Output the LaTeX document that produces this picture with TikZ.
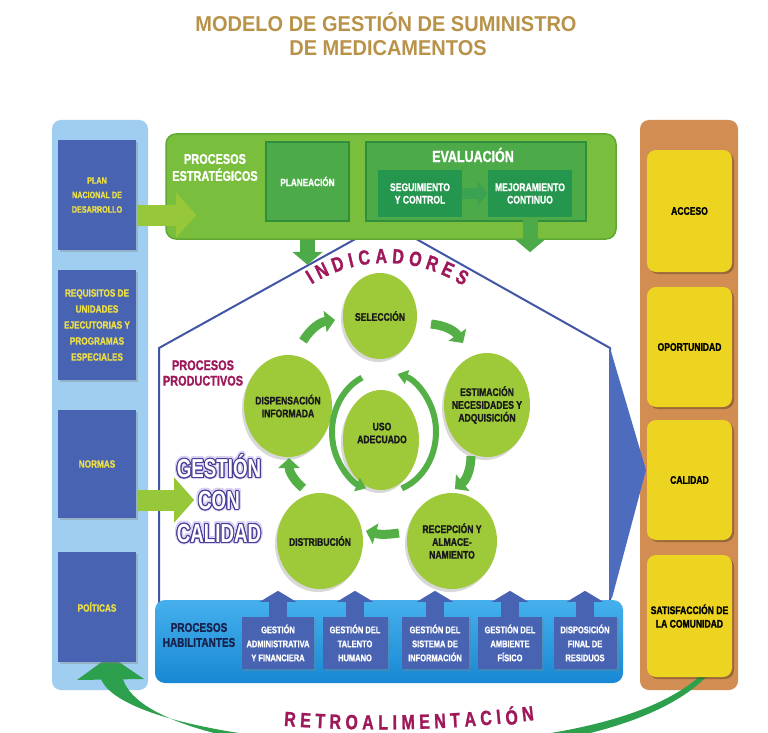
\documentclass[tikz,border=0pt]{standalone}
\usepackage{fontspec}
\usepackage[copies]{contour}
\usetikzlibrary{shapes.geometric,arrows.meta,shadows,calc}
\newfontfamily\cf[FakeStretch=0.78, BoldFeatures={FakeBold=1.2}]{Liberation Sans}
\newfontfamily\tf[FakeStretch=0.93]{Liberation Sans}
\newfontfamily\gf[FakeStretch=0.72]{Liberation Sans}
\newcommand\myfs[2]{\fontsize{#1}{#2}\selectfont}
\definecolor{colblue}{RGB}{160,206,240}
\definecolor{boxblue}{RGB}{72,99,178}
\definecolor{txtyel}{RGB}{236,222,70}
\definecolor{topgreen}{RGB}{122,190,62}
\definecolor{topgreenb}{RGB}{96,168,50}
\definecolor{midgreen}{RGB}{76,170,72}
\definecolor{midgreenb}{RGB}{48,142,60}
\definecolor{darkgreen}{RGB}{36,150,78}
\definecolor{arrmid}{RGB}{58,162,80}
\definecolor{lgreen}{RGB}{150,200,58}
\definecolor{circgreen}{RGB}{158,202,58}
\definecolor{arrgreen}{RGB}{84,176,70}
\definecolor{houseblue}{RGB}{66,86,166}
\definecolor{wedgeblue}{RGB}{78,108,190}
\definecolor{habtop}{RGB}{70,176,236}
\definecolor{habbot}{RGB}{24,136,212}
\definecolor{navy}{RGB}{24,34,78}
\definecolor{orangecol}{RGB}{210,142,82}
\definecolor{yel}{RGB}{236,212,32}
\definecolor{titlecol}{RGB}{184,146,72}
\definecolor{mag}{RGB}{158,24,90}
\definecolor{gcout}{RGB}{72,62,150}
\definecolor{gcglow}{RGB}{218,208,242}
\definecolor{swoosh}{RGB}{44,160,76}
\tikzset{
  leftbox/.style={rectangle, fill=boxblue, text=txtyel, minimum width=78pt, inner sep=1pt, align=center,
    font=\cf\bfseries\myfs{10.5}{16}, drop shadow={opacity=0.35,shadow xshift=2pt,shadow yshift=-2pt}},
  yelbox/.style={rectangle, rounded corners=9pt, fill=yel, text=black, minimum width=85pt, align=center,
    font=\cf\bfseries\myfs{11}{13.5}, drop shadow={opacity=0.45,shadow xshift=2pt,shadow yshift=-2pt,fill=black!60!orangecol}},
  inbox/.style={rectangle, fill=midgreen, draw=midgreenb, line width=2pt, text=white, align=center,
    font=\cf\bfseries\myfs{10.5}{12}},
  dbox/.style={rectangle, fill=darkgreen, text=white, align=center, inner sep=0pt, minimum width=84pt, minimum height=47pt,
    font=\cf\bfseries\myfs{11}{12.5}},
  circ/.style={ellipse, fill=circgreen, inner sep=0pt, drop shadow={opacity=0.3,shadow xshift=-2pt,shadow yshift=-3pt}},
  circtext/.style={align=center, text=black!90, font=\cf\bfseries\myfs{11}{12.8}},
  habbox/.style={rectangle, fill=boxblue, text=white, minimum height=52pt, align=center, inner sep=1pt,
    font=\cf\bfseries\myfs{9.6}{14}, drop shadow={opacity=0.35,shadow xshift=2pt,shadow yshift=-2pt}},
  lgarr/.style={lgreen, line width=21pt, -{Triangle[width=44pt,length=20pt]}},
  downarr/.style={midgreen, line width=15pt, -{Triangle[width=30pt,length=13pt]}},
  uparr/.style={boxblue, line width=18pt, -{Triangle[width=36pt,length=11pt]}},
  curvarr/.style={arrgreen, line width=9pt, -{Triangle[width=21pt,length=10pt]}},
  usoarr/.style={arrgreen, line width=6pt, -{Triangle[width=14pt,length=10pt]}},
  arcletter/.style={text=mag, inner sep=0pt, font=\cf\bfseries\myfs{20.5}{20.5}},
  gcword/.style={text=white, font=\gf\bfseries\myfs{26}{26}},
  gcglowword/.style={text=gcglow, font=\gf\bfseries\myfs{26}{26}},
}
\contourlength{1pt}
\begin{document}
\begin{tikzpicture}[x=1pt,y=-1pt]
\useasboundingbox (0,0) rectangle (768,733);
\clip (0,0) rectangle (768,733);
\fill[white] (0,0) rectangle (768,733);

% title
\node[font=\tf\bfseries\myfs{21.5}{21.5}, text=titlecol] (title1) at (386,22) {MODELO DE GESTIÓN DE SUMINISTRO};
\node[font=\tf\bfseries\myfs{21.5}{21.5}, text=titlecol] (title2) at (388,48) {DE MEDICAMENTOS};

% columns
\node[fill=colblue, rounded corners=9pt, minimum width=96pt, minimum height=570pt, inner sep=0pt] (leftcol) at (100,405) {};
\node[fill=orangecol, rounded corners=9pt, minimum width=98pt, minimum height=570pt, inner sep=0pt] (rightcol) at (689,405) {};

% feedback swoosh
\fill[swoosh] (706,670) .. controls (600,783) and (130,752) .. (101,679) -- (123,679)
   .. controls (150,768) and (600,790) .. (708,675) -- cycle;
\fill[swoosh] (77,680) -- (110,656) -- (144,679) -- cycle;

% left boxes
\node[leftbox, minimum height=110pt, font=\cf\bfseries\myfs{9.2}{14.5}] (pnd) at (97,195) {PLAN\\NACIONAL DE\\DESARROLLO};
\node[leftbox, minimum height=110pt] (req) at (97,325) {REQUISITOS DE\\UNIDADES\\EJECUTORIAS Y\\PROGRAMAS\\ESPECIALES};
\node[leftbox, minimum height=108pt] (nor) at (97,464) {NORMAS};
\node[leftbox, minimum height=110pt] (pol) at (97,607) {POÍTICAS};

% right boxes
\node[yelbox, minimum height=122pt] (acc) at (689.5,211) {ACCESO};
\node[yelbox, minimum height=120pt] (opo) at (689.5,347) {OPORTUNIDAD};
\node[yelbox, minimum height=120pt] (cal) at (689.5,480) {CALIDAD};
\node[yelbox, minimum height=122pt] (sat) at (689.5,616) {SATISFACCIÓN DE\\LA COMUNIDAD};

% house
\coordinate (hbl) at (159,605);
\coordinate (hl) at (159,348);
\coordinate (hap) at (386,222);
\coordinate (hr) at (610,348);
\coordinate (hbr) at (610,600);
\coordinate (wtip) at (646,470);
\draw[houseblue, line width=2pt] (hbl) -- (hl) -- (hap) -- (hr) -- (hbr);
\fill[wedgeblue] (hr) -- (wtip) -- (612,598) -- (609,598) -- (609,347) -- cycle;

% strategic processes
\node[fill=topgreen, draw=topgreenb, line width=1.5pt, rounded corners=10pt, minimum width=450pt, minimum height=105pt, inner sep=0pt] (top) at (391,186.5) {};
\node[text=white, font=\cf\bfseries\myfs{14}{17}, align=center] (pe) at (215,167.5) {PROCESOS\\ESTRATÉGICOS};
\node[inbox, minimum width=83pt, minimum height=79pt] (plan) at (307.5,181.5) {PLANEACIÓN};
\node[inbox, minimum width=220pt, minimum height=79pt] (eval) at (476,181.5) {};
\node[text=white, font=\cf\bfseries\myfs{16}{16}] (evalt) at (473,155) {EVALUACIÓN};
\node[dbox] (seg) at (420,193.5) {SEGUIMIENTO\\Y CONTROL};
\node[dbox] (mej) at (530,193.5) {MEJORAMIENTO\\CONTINUO};
\draw[arrmid, line width=11pt, -{Triangle[width=24pt,length=10pt]}] (seg.east) -- (mej.west);
\draw[downarr] (plan.south |- top.south) -- ++(0,25);
\draw[downarr] (mej.south) -- ++(0,35);

% left arrows
\draw[lgarr] ($(pnd.east)+(1,20)$) -- ++(59,0);
\draw[lgarr] ($(nor.east)+(1,36)$) -- ++(57,0);

% INDICADORES
\foreach \l/\s [count=\i from 0] in {I/0, N/13.7, D/30.77, I/44.47, C/58.17, A/75.24, D/92.31, O/109.81, R/127.31, E/143.97, S/160.21} {
  \pgfmathsetmacro\ang{121-\s/148*57.2958}
  \node[arcletter, rotate=\ang-90] (ind\i) at ({386+148*cos(\ang)},{404-148*sin(\ang)}) {\l};
}

% productive processes
\node[text=mag, font=\cf\bfseries\myfs{14}{15.5}, align=center] (pp) at (203,373) {PROCESOS\\PRODUCTIVOS};

\node[circ, minimum width=74pt, minimum height=86pt] (sel) at (380,316) {};
\node[circtext] (selT) at (sel) {SELECCIÓN};
\node[circ, minimum width=86pt, minimum height=104pt] (est) at (487,405) {};
\node[circtext] (estT) at (est) {ESTIMACIÓN\\NECESIDADES Y\\ADQUISICIÓN};
\node[circ, minimum width=90pt, minimum height=96pt] (rec) at (452,541) {};
\node[circtext] (recT) at (rec) {RECEPCIÓN Y\\ALMACE-\\NAMIENTO};
\node[circ, minimum width=86pt, minimum height=96pt] (dis) at (320,541) {};
\node[circtext] (disT) at (dis) {DISTRIBUCIÓN};
\node[circ, minimum width=88pt, minimum height=102pt] (disp) at (288,406) {};
\node[circtext] (dispT) at (disp) {DISPENSACIÓN\\INFORMADA};
\node[circ, minimum width=76pt, minimum height=100pt] (uso) at (381,440) {};
\node[circtext] (usoT) at (382,433) {USO\\ADECUADO};

% cycle arrows
\coordinate (a1s) at (303,341); \coordinate (a1e) at (335,320);
\coordinate (a2s) at (431,324); \coordinate (a2e) at (463,343);
\coordinate (a3s) at (471,456); \coordinate (a3e) at (455,489);
\coordinate (a4s) at (399,533); \coordinate (a4e) at (366,531);
\coordinate (a5s) at (303,488); \coordinate (a5e) at (289,458);
\draw[curvarr] (a1s) to[bend left=25] (a1e);
\draw[curvarr] (a2s) to[bend left=25] (a2e);
\draw[curvarr] (a3s) to[bend left=25] (a3e);
\draw[curvarr] (a4s) to[bend left=12] (a4e);
\draw[curvarr] (a5s) to[bend left=25] (a5e);

\coordinate (uc) at (384,432);
\draw[usoarr] ($(uc)+(-22,-54.4)$) arc[start angle=-115, end angle=-250, x radius=52, y radius=60];
\draw[usoarr] ($(uc)+(17.8,56.4)$) arc[start angle=-290, end angle=-435, x radius=52, y radius=60];

% GESTION CON CALIDAD
\node[gcglowword] (g1b) at (219,467) {\contourlength{2.5pt}\contour{gcglow}{GESTIÓN}};
\node[gcglowword] (g2b) at (219,501) {\contourlength{2.5pt}\contour{gcglow}{CON}};
\node[gcglowword] (g3b) at (219,534) {\contourlength{2.5pt}\contour{gcglow}{CALIDAD}};
\node[gcword] (g1) at (219,467) {\contour{gcout}{GESTIÓN}};
\node[gcword] (g2) at (219,501) {\contour{gcout}{CON}};
\node[gcword] (g3) at (219,534) {\contour{gcout}{CALIDAD}};

% enabling processes
\node[rounded corners=10pt, top color=habtop, bottom color=habbot, minimum width=468pt, minimum height=83pt, inner sep=0pt] (hab) at (389,641.5) {};
\node[text=navy, font=\cf\bfseries\myfs{12.8}{15}, align=center] (pht) at (199,635) {PROCESOS\\HABILITANTES};
\node[habbox, minimum width=72pt] (h1) at (278,643) {GESTIÓN\\ADMINISTRATIVA\\Y FINANCIERA};
\node[habbox, minimum width=65pt] (h2) at (355,643) {GESTIÓN DEL\\TALENTO\\HUMANO};
\node[habbox, minimum width=67pt] (h3) at (435,643) {GESTIÓN DEL\\SISTEMA DE\\INFORMACIÓN};
\node[habbox, minimum width=64pt] (h4) at (510,643) {GESTIÓN DEL\\AMBIENTE\\FÍSICO};
\node[habbox, minimum width=63pt] (h5) at (585,643) {DISPOSICIÓN\\FINAL DE\\RESIDUOS};
\foreach \h in {h1,h2,h3,h4,h5} { \draw[uparr] (\h.north) -- ++(0,-26); }

% RETROALIMENTACION
\foreach \l/\s [count=\i from 0] in {R/0, E/15.52, T/30.19, R/45.28, O/61.64, A/78.00, L/93.09, I/104.81, M/118.21, E/134.57, N/150.09, T/165.18, A/180.27, C/196.20, I/208.76, Ó/221.75, N/238.11} {
  \pgfmathsetmacro\dl{(\s-90)/1255*57.2958}
  \node[arcletter, rotate=\dl] (ret\i) at ({380+1255*sin(\dl)},{-532.5+1255*cos(\dl)}) {\l};
}
\end{tikzpicture}
\end{document}
